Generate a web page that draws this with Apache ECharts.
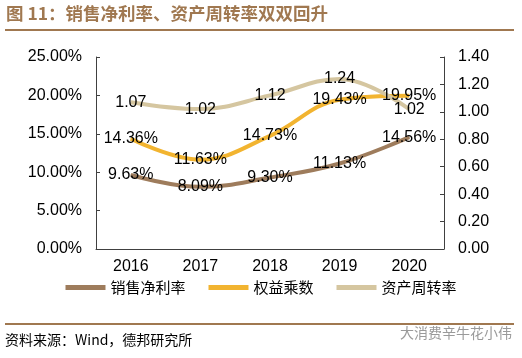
<!DOCTYPE html>
<html><head><meta charset="utf-8">
<script src="https://cdn.jsdelivr.net/npm/echarts@6/dist/echarts.min.js"></script>
<style>html,body{margin:0;padding:0;background:#fff}#c{width:522px;height:358px}</style>
</head><body><div id="c"></div>
<script>
const categories = ['2016','2017','2018','2019','2020'];
const netMargin = [9.63, 8.09, 9.30, 11.13, 14.56];
const equityMultiplier = [14.36, 11.63, 14.73, 19.43, 19.95];
const assetTurnover = [1.07, 1.02, 1.12, 1.24, 1.02];
const seriesNames = ['销售净利率','权益乘数','资产周转率'];
const colors = ['#9E7C5C','#F2B430','#D5C6A0'];

const font = '"Liberation Sans", Arial, sans-serif';
const cjk = '"Noto Sans CJK SC", sans-serif';
const chart = echarts.init(document.getElementById('c'));
const lbl = (fmt) => ({show:true, position:'inside', color:'#000', fontSize:16, fontFamily:font, formatter:fmt});
const mk = (i, axis, data, fmt) => ({name:seriesNames[i], type:'line', yAxisIndex:axis, data:data, smooth:0.4,
  symbol:'circle', symbolSize:1, showSymbol:true,
  lineStyle:{color:colors[i], width:4}, itemStyle:{color:colors[i]},
  label:lbl(fmt), labelLayout:{hideOverlap:false}});
chart.setOption({
  animation:false,
  grid:{left:96, right:78, top:57, bottom:109},
  legend:{bottom:58, left:'center', itemWidth:40, itemHeight:5, itemGap:23, icon:'rect',
    textStyle:{fontSize:15, fontFamily:cjk, color:'#000'}, data:seriesNames},
  xAxis:{type:'category', data:categories, boundaryGap:true,
    axisLine:{lineStyle:{color:'#404040', width:1}},
    axisTick:{inside:true, length:4, lineStyle:{color:'#404040'}},
    axisLabel:{color:'#000', fontSize:16, fontFamily:font, margin:10}},
  yAxis:[
    {type:'value', min:0, max:25, interval:5, splitLine:{show:false},
     axisLine:{show:true, lineStyle:{color:'#404040'}},
     axisTick:{show:true, inside:true, length:4, lineStyle:{color:'#404040'}},
     axisLabel:{color:'#000', fontSize:16, fontFamily:font, margin:14, formatter:v=>v.toFixed(2)+'%'}},
    {type:'value', min:0, max:1.4, interval:0.2, splitLine:{show:false},
     axisLine:{show:true, lineStyle:{color:'#404040'}},
     axisTick:{show:true, inside:true, length:4, lineStyle:{color:'#404040'}},
     axisLabel:{color:'#000', fontSize:16, fontFamily:font, margin:14, formatter:v=>v.toFixed(2)}}
  ],
  series:[
    mk(0, 0, netMargin, p=>p.value.toFixed(2)+'%'),
    mk(1, 0, equityMultiplier, p=>p.value.toFixed(2)+'%'),
    mk(2, 1, assetTurnover, p=>p.value.toFixed(2))
  ],
  graphic:[
    {type:'text', left:6, top:5, style:{text:'图 11：销售净利率、资产周转率双双回升', fontSize:17.5, fontWeight:'bold', fontFamily:cjk, fill:'#A07850'}},
    {type:'rect', shape:{x:5, y:29, width:509, height:2}, style:{fill:'#A07850'}},
    {type:'rect', shape:{x:5, y:323, width:509, height:2}, style:{fill:'#A07850'}},
    {type:'text', left:5, top:333, style:{text:'资料来源：Wind，德邦研究所', fontSize:14, fontFamily:cjk, fill:'#000'}},
    {type:'text', left:400, top:326, style:{text:'大消费辛牛花小伟', fontSize:14, fontFamily:cjk, fill:'#9a9a9a'}}
  ]
});
</script></body></html>
